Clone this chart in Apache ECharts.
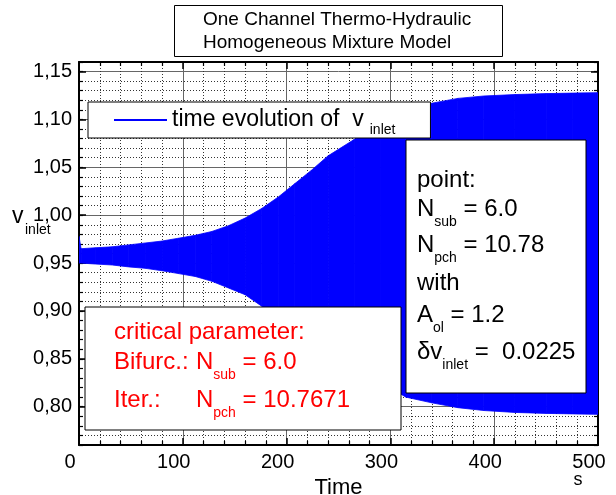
<!DOCTYPE html>
<html>
<head>
<meta charset="utf-8">
<script src="https://cdn.jsdelivr.net/npm/echarts@6/dist/echarts.min.js"></script>
<style>
  html, body { margin: 0; padding: 0; background: #fff; }
  #chart { width: 616px; height: 495px; }
</style>
</head>
<body>
<div id="chart"></div>
<script>
// time in s, envelope of the oscillating inlet velocity
let times = [0, 2, 16, 32, 48, 64, 80, 96, 112, 128, 144, 160, 176, 192, 208, 224, 240, 265, 290, 315, 340, 365, 390, 420, 450, 475, 500]
let upperEnv = [0.978, 0.965, 0.966, 0.967, 0.969, 0.971, 0.973, 0.976, 0.979, 0.983, 0.989, 0.997, 1.007, 1.019, 1.033, 1.047, 1.062, 1.079, 1.095, 1.108, 1.117, 1.122, 1.1245, 1.126, 1.127, 1.1275, 1.128]
let lowerEnv = [0.950, 0.950, 0.949, 0.948, 0.946, 0.9445, 0.942, 0.939, 0.936, 0.931, 0.924, 0.917, 0.905, 0.893, 0.881, 0.868, 0.856, 0.840, 0.826, 0.810, 0.804, 0.799, 0.796, 0.794, 0.793, 0.7925, 0.792]
let yTicks = [0.80, 0.85, 0.90, 0.95, 1.00, 1.05, 1.10, 1.15]

let font = 'Liberation Sans, Arial, sans-serif'
let bandName = 'time evolution of v_inlet'
let blue = '#0000ff'

let chart = echarts.init(document.getElementById('chart'))

// one item per segment: [t0, lo0, up0, t1, lo1, up1]
let bandData = []
for (let i = 0; i < times.length - 1; i++) {
  bandData.push([times[i], lowerEnv[i], upperEnv[i], times[i + 1], lowerEnv[i + 1], upperEnv[i + 1]])
}

function renderBand(params, api) {
  let pts = [
    api.coord([api.value(0), api.value(2)]),
    api.coord([api.value(3), api.value(5)]),
    api.coord([api.value(3), api.value(4)]),
    api.coord([api.value(0), api.value(1)])
  ]
  return {
    type: 'polygon',
    shape: { points: pts },
    style: { fill: blue, stroke: blue, lineWidth: 0.8 }
  }
}

let axisLine = { show: true, lineStyle: { color: '#000', width: 2 } }
let minorTick = { show: true, inside: true, length: 4, lineStyle: { color: '#000', width: 1.2 } }
let majorTick = { show: true, inside: true, length: 7, lineStyle: { color: '#000', width: 1.5 } }
let dotted = { show: true, lineStyle: { color: '#333', width: 1, type: [1, 2] } }
let solid = { show: true, lineStyle: { color: '#666', width: 1 } }

// sub-script rich styles
function richSet(color, size, subSize, drop) {
  return {
    n: { fontSize: size, fontFamily: font, color: color, lineHeight: 2 * drop + subSize + 6 },
    s: { fontSize: subSize, fontFamily: font, color: color, lineHeight: subSize, padding: [2 * drop + 6, 0, 0, 0] }
  }
}

function label(x, y, text, color) {
  return {
    type: 'text', x: x, y: y, z: 100,
    style: { text: text, rich: richSet(color, 24, 14, 10), verticalAlign: 'middle', align: 'left', fill: color, font: '24px ' + font }
  }
}

chart.setOption({
  animation: false,
  title: {
    text: 'One Channel Thermo-Hydraulic\nHomogeneous Mixture Model',
    left: 174,
    top: 5,
    padding: [3, 32, 3, 29],
    borderColor: '#000',
    borderWidth: 1,
    textStyle: { fontSize: 19, fontWeight: 'normal', color: '#000', fontFamily: font, lineHeight: 23 }
  },
  legend: {
    data: [bandName],
    left: 88,
    top: 102,
    padding: [1, 35, 1, 26],
    backgroundColor: '#fff',
    borderColor: '#000',
    borderWidth: 1,
    itemWidth: 53,
    itemHeight: 2,
    icon: 'rect',
    itemStyle: { color: blue },
    selectedMode: false,
    z: 10,
    formatter: function () { return '{a|time evolution of  v}{s|inlet}' },
    textStyle: {
      rich: {
        a: { fontSize: 23, fontFamily: font, color: '#000', lineHeight: 34 },
        s: { fontSize: 14, fontFamily: font, color: '#000', lineHeight: 14, padding: [20, 0, 0, 6] }
      }
    }
  },
  grid: { left: 79, right: 18, top: 62, bottom: 50, outerBoundsMode: 'none' },
  xAxis: [
    {
      type: 'value', min: 0, max: 500, interval: 100, position: 'bottom',
      axisLine: axisLine, axisTick: majorTick,
      minorTick: Object.assign({ splitNumber: 5 }, minorTick),
      splitLine: solid, minorSplitLine: dotted,
      axisLabel: { fontSize: 20, color: '#000', fontFamily: font, margin: 7, padding: [0, 18, 0, 0] },
      name: 'Time', nameLocation: 'middle', nameGap: 27,
      nameTextStyle: { fontSize: 22, color: '#000', fontFamily: font }
    },
    {
      type: 'value', min: 0, max: 500, interval: 100, position: 'top',
      axisLine: axisLine, axisTick: majorTick,
      minorTick: Object.assign({ splitNumber: 5 }, minorTick),
      splitLine: { show: false }, axisLabel: { show: false }
    }
  ],
  yAxis: [
    {
      type: 'value', min: 0.76, max: 1.16, interval: 0.01, position: 'left',
      axisLine: axisLine, axisTick: minorTick, splitLine: dotted, axisLabel: { show: false }
    },
    {
      type: 'value', min: 0.76, max: 1.16, interval: 0.01, position: 'left',
      axisLine: { show: false },
      axisTick: Object.assign({ customValues: yTicks }, majorTick),
      splitLine: solid,
      axisLabel: {
        customValues: yTicks, fontSize: 20, color: '#000', fontFamily: font, margin: 7,
        formatter: v => v.toFixed(2).replace('.', ',')
      }
    },
    {
      type: 'value', min: 0.76, max: 1.16, interval: 0.01, position: 'right',
      axisLine: axisLine, axisTick: minorTick, splitLine: { show: false }, axisLabel: { show: false }
    },
    {
      type: 'value', min: 0.76, max: 1.16, interval: 0.01, position: 'right',
      axisLine: { show: false },
      axisTick: Object.assign({ customValues: yTicks }, majorTick),
      splitLine: { show: false }, axisLabel: { show: false }
    }
  ],
  series: [
    {
      name: bandName, type: 'custom', data: bandData,
      renderItem: renderBand, clip: true, silent: true,
      itemStyle: { color: blue },
      encode: { x: [0, 3], y: [1, 2, 4, 5] }
    }
  ],
  graphic: [
    // y-axis name
    { type: 'text', x: 12, y: 217, z: 100, style: { text: 'v', font: '23px ' + font, fill: '#000', verticalAlign: 'middle' } },
    { type: 'text', x: 25, y: 230, z: 100, style: { text: 'inlet', font: '14px ' + font, fill: '#000', verticalAlign: 'middle' } },
    // unit
    { type: 'text', x: 578, y: 480, z: 100, style: { text: 's', font: '18px ' + font, fill: '#000', align: 'center', verticalAlign: 'middle' } },
    // point box
    { type: 'rect', z: 90, shape: { x: 406, y: 140, width: 180, height: 253 }, style: { fill: '#fff', stroke: '#000', lineWidth: 1 } },
    label(417, 180, '{n|point:}', '#000'),
    label(417, 209, '{n|N}{s|sub}{n| = 6.0}', '#000'),
    label(417, 245, '{n|N}{s|pch}{n| = 10.78}', '#000'),
    label(417, 283, '{n|with}', '#000'),
    label(417, 315, '{n|A}{s|ol}{n| = 1.2}', '#000'),
    label(417, 352, '{n|δv}{s|inlet}{n| =  0.0225}', '#000'),
    // critical parameter box
    { type: 'rect', z: 90, shape: { x: 85, y: 307, width: 316, height: 123 }, style: { fill: '#fff', stroke: '#000', lineWidth: 1 } },
    label(114, 332, '{n|critical parameter:}', '#ff0000'),
    label(114, 362, '{n|Bifurc.:}', '#ff0000'),
    label(196, 362, '{n|N}{s|sub}{n| = 6.0}', '#ff0000'),
    label(114, 400, '{n|Iter.:}', '#ff0000'),
    label(196, 400, '{n|N}{s|pch}{n| = 10.7671}', '#ff0000')
  ]
})
</script>
</body>
</html>
